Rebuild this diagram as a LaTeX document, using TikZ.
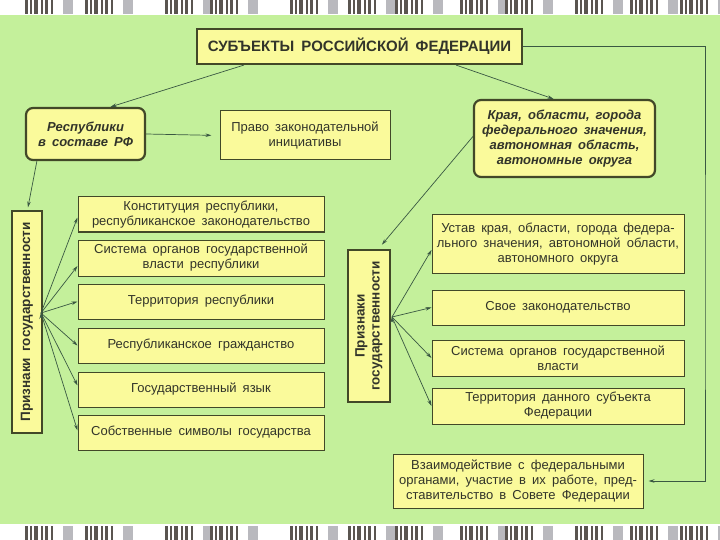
\documentclass[tikz,border=0pt]{standalone}
\usepackage{fontspec}
\setmainfont{Liberation Sans}[WordSpace=1.7]
\usetikzlibrary{arrows.meta,positioning,calc}

\definecolor{bggreen}{RGB}{196,240,155}
\definecolor{boxyellow}{RGB}{250,250,155}
\definecolor{edgeolive}{RGB}{66,72,40}
\definecolor{txtgray}{RGB}{50,52,42}
\definecolor{arrowgreen}{RGB}{58,88,66}
\definecolor{bardark}{RGB}{90,85,80}
\definecolor{barlight}{RGB}{185,185,190}

\tikzset{
  plain/.style={rectangle, draw=edgeolive, line width=1pt, fill=boxyellow, text=txtgray,
    align=center, inner sep=2pt, font=\fontsize{13}{15}\selectfont},
  headbox/.style={plain, line width=2.2pt, font=\fontsize{15}{17}\selectfont\bfseries},
  kindbox/.style={plain, rounded corners=7pt, line width=2.2pt,
    font=\fontsize{13}{15}\selectfont\bfseries\itshape},
  signbox/.style={plain, rotate=90, line width=1.4pt, font=\fontsize{13.5}{15}\selectfont\bfseries},
  arr/.style={-{Stealth[length=6pt,width=3.5pt]}, draw=arrowgreen, line width=0.7pt},
}

\begin{document}
\begin{tikzpicture}[x=1pt,y=-1pt]
  % background and strips
  \useasboundingbox (0,0) rectangle (720,540);
  \fill[white] (0,0) rectangle (720,540);
  \fill[bggreen] (0,15) rectangle (720,524);
  \foreach \y in {0,526} {
    \foreach \x in {25,85,165,210,290,348,395,460,505,575,630,680} {
      \foreach \d/\w in {0/3,5/2,9/4,16/1.5,20/3,26/2}
        \fill[bardark] (\x+\d,\y) rectangle ++(\w,14);
      \fill[barlight] (\x+38,\y) rectangle ++(10,14);
    }
  }

  % top
  \node (title) [headbox, minimum width=325pt, minimum height=35pt] at (359.5,46.5)
    {СУБЪЕКТЫ РОССИЙСКОЙ ФЕДЕРАЦИИ};
  \node (rep) [kindbox, minimum width=119pt, minimum height=52pt] at (85.5,134)
    {Республики\\в составе РФ};
  \node (kray) [kindbox, minimum width=181pt, minimum height=77pt] at (564.5,138.5)
    {Края, области, города\\федерального значения,\\автономная область,\\автономные округа};
  \node (pravo) [plain, minimum width=170pt, minimum height=49pt] at (305,135.5)
    {Право законодательной\\инициативы};

  % republics
  \node (lpriz) [signbox, minimum width=222pt, minimum height=30pt] at (27,322)
    {Признаки государственности};
  \node (l1) [plain, minimum width=246pt, minimum height=35pt] at (201,214.5)
    {Конституция республики,\\республиканское законодательство};
  \node (l2) [plain, minimum width=246pt, minimum height=36pt] at (201,258)
    {Система органов государственной\\власти республики};
  \node (l3) [plain, minimum width=246pt, minimum height=35pt] at (201,301.5)
    {Территория республики};
  \node (l4) [plain, minimum width=246pt, minimum height=35pt] at (201,345.5)
    {Республиканское гражданство};
  \node (l5) [plain, minimum width=246pt, minimum height=35pt] at (201,389.5)
    {Государственный язык};
  \node (l6) [plain, minimum width=246pt, minimum height=35pt] at (201,432.5)
    {Собственные символы государства};
  \coordinate (lfan) at (41,313);

  % other subjects
  \node (rpriz) [signbox, minimum width=152pt, minimum height=42pt] at (369,326)
    {Признаки\\государственности};
  \node (r1) [plain, minimum width=252pt, minimum height=58pt, inner sep=1pt] at (558,244)
    {Устав края, области, города федера-\\льного значения, автономной области,\\автономного округа};
  \node (r2) [plain, minimum width=252pt, minimum height=35pt] at (558,307.5)
    {Свое законодательство};
  \node (r3) [plain, minimum width=252pt, minimum height=36pt] at (558,358)
    {Система органов государственной\\власти};
  \node (r4) [plain, minimum width=252pt, minimum height=36pt] at (558,406)
    {Территория данного субъекта\\Федерации};
  \coordinate (rfan) at (392,317);

  \node (fed) [plain, minimum width=250pt, minimum height=54pt, inner sep=1pt] at (518,481)
    {Взаимодействие с федеральными\\органами, участие в их работе, пред-\\ставительство в Совете Федерации};
  \coordinate (rline) at (705,300);

  % connectors
  \draw[arr] ([xshift=48pt]title.south west) -- ([xshift=25pt]rep.north);
  \draw[arr] ([xshift=-67pt]title.south east) -- ([xshift=-11pt]kray.north);
  \draw[arr, shorten >=5pt] (title.east) -| (rline) |- (fed.east);
  \draw[arr, shorten >=8pt] (rep.east) -- (pravo.west);
  \draw[arr, shorten >=5pt] ([xshift=12pt]rep.south west) -- ([yshift=-2pt]lpriz.east);
  \draw[arr, shorten >=6pt] ([yshift=2pt]kray.west) -- ([xshift=9pt]rpriz.east);

  \path [arr]
  (lfan) edge ([yshift=-3pt]l1.west)
  (lfan) edge ([yshift=-8pt]l2.west)
  (lfan) edge (l3.west)
  (lfan) edge (l4.west)
  (lfan) edge ([yshift=4pt]l5.west)
  (lfan) edge ([yshift=2pt]l6.west);

  \path [arr]
  (rfan) edge ([yshift=-6pt]r1.west)
  (rfan) edge (r2.west)
  (rfan) edge (r3.west)
  (rfan) edge (r4.west);
\end{tikzpicture}
\end{document}
